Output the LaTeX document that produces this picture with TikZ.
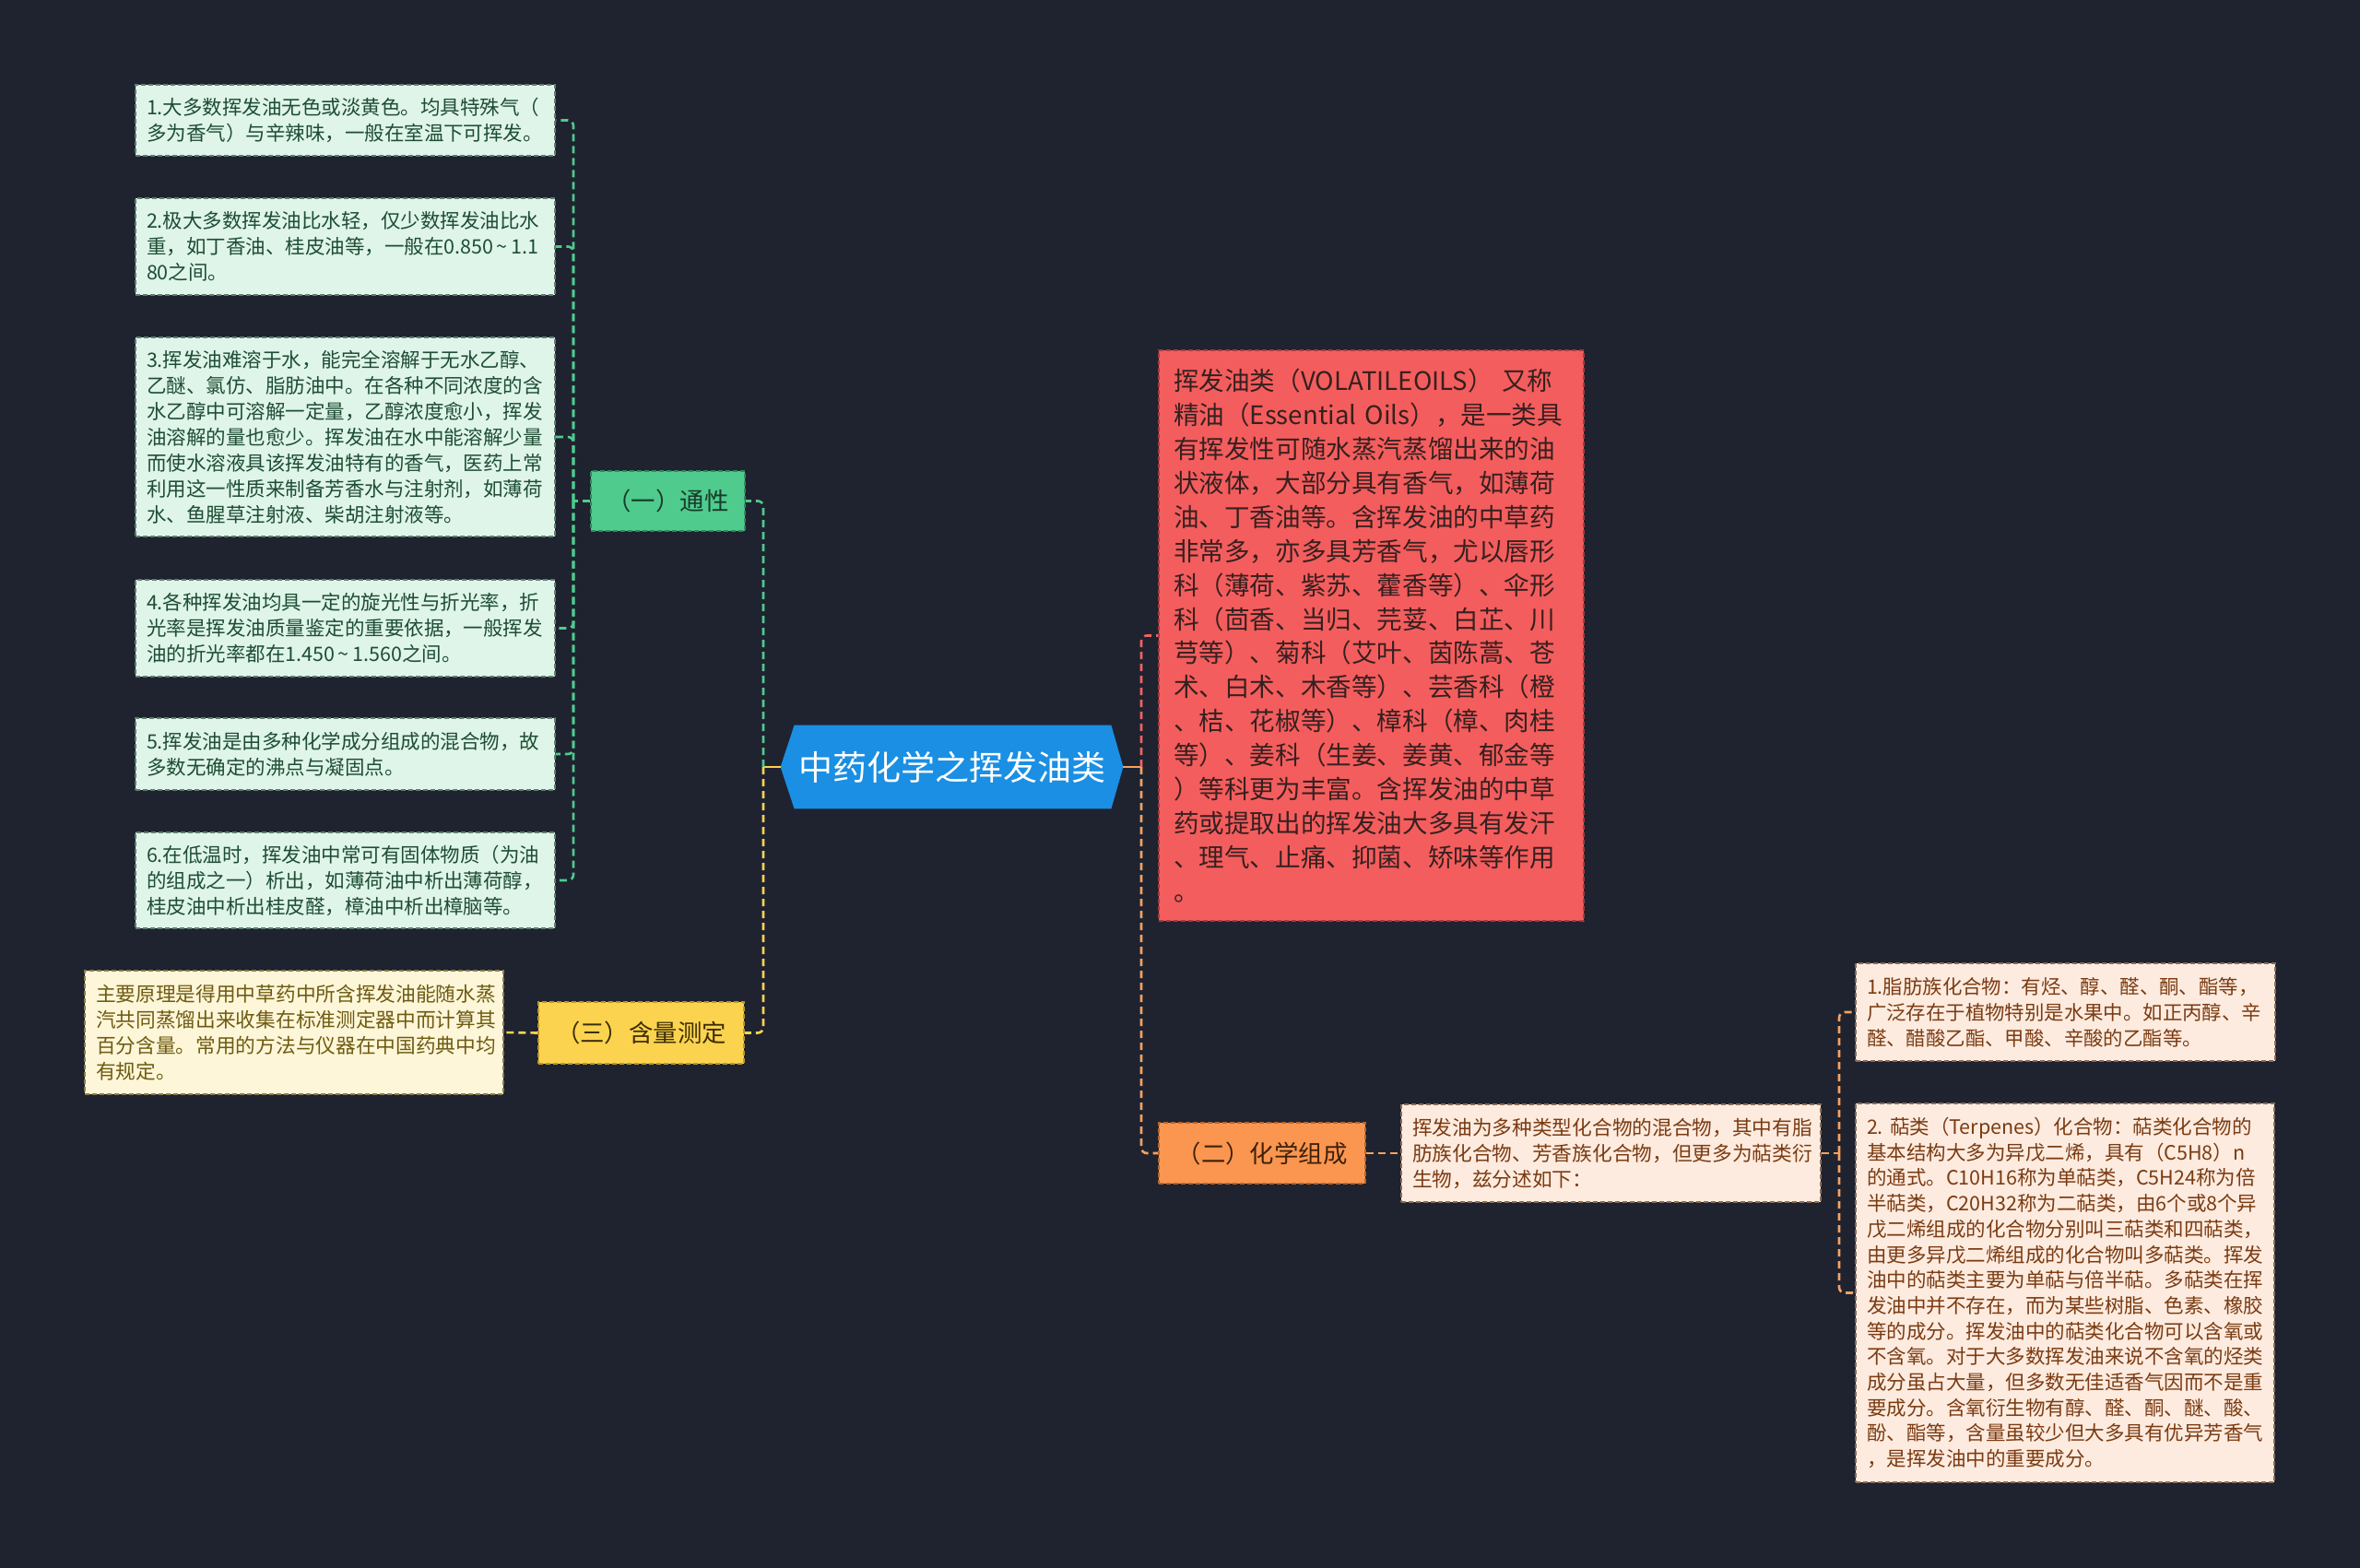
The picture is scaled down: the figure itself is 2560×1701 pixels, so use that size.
\documentclass[tikz,border=0pt]{standalone}
\usepackage{fontspec}
\setmainfont{Noto Sans CJK SC}
\pgfdeclarelayer{bg}\pgfdeclarelayer{mid}\pgfsetlayers{bg,mid,main}
\definecolor{bgc}{HTML}{1F2330}
\definecolor{rootblue}{HTML}{1A8FE3}
\definecolor{cgreen}{HTML}{4FCB8D}
\definecolor{gfill}{HTML}{DFF5E9}
\definecolor{gtext}{HTML}{1E4D34}
\definecolor{gborder}{HTML}{5E7F6C}
\definecolor{gnodetext}{HTML}{173B29}
\definecolor{gnodeborder}{HTML}{2E8A5C}
\definecolor{cyellow}{HTML}{FCD34F}
\definecolor{yfill}{HTML}{FDF6D8}
\definecolor{ytext}{HTML}{6F5B12}
\definecolor{yborder}{HTML}{8A7C4A}
\definecolor{ynodetext}{HTML}{3A2E05}
\definecolor{ynodeborder}{HTML}{B8962A}
\definecolor{cred}{HTML}{F26262}
\definecolor{rfill}{HTML}{F45D5D}
\definecolor{rtext}{HTML}{362020}
\definecolor{rborder}{HTML}{A83A3A}
\definecolor{corange}{HTML}{F7A160}
\definecolor{ofill}{HTML}{FA9650}
\definecolor{onodetext}{HTML}{40200A}
\definecolor{onodeborder}{HTML}{B8642A}
\definecolor{ofillL}{HTML}{FDEBDF}
\definecolor{otext}{HTML}{7B3B12}
\definecolor{oborder}{HTML}{8C6A55}
\tikzset{
  conn/.style={line width=1.3pt, dash pattern=on 4pt off 2.5pt, rounded corners=3pt},
  boxbase/.style={rectangle, line width=0.6pt, dash pattern=on 2.5pt off 1.5pt, inner ysep=2pt, align=left},
  leafg/.style={boxbase, fill=gfill, draw=gborder, text=gtext, font=\fontsize{10.75pt}{14pt}\selectfont, text width=215.5pt, inner xsep=6pt},
  leafy/.style={boxbase, fill=yfill, draw=yborder, text=ytext, font=\fontsize{10.85pt}{14pt}\selectfont, text width=215pt, inner xsep=6pt},
  leafo/.style={boxbase, fill=ofillL, draw=oborder, text=otext, font=\fontsize{10.85pt}{14pt}\selectfont, text width=215.5pt, inner xsep=6pt},
  leafr/.style={boxbase, fill=rfill, draw=rborder, text=rtext, font=\fontsize{13.8pt}{18.45pt}\selectfont, text width=214.5pt, inner xsep=8pt},
  branchg/.style={boxbase, align=center, fill=cgreen, draw=gnodeborder, text=gnodetext, font=\fontsize{13.2pt}{15pt}\selectfont},
  branchy/.style={boxbase, align=center, fill=cyellow, draw=ynodeborder, text=ynodetext, font=\fontsize{13.2pt}{15pt}\selectfont},
  brancho/.style={boxbase, align=center, fill=ofill, draw=onodeborder, text=onodetext, font=\fontsize{13.2pt}{15pt}\selectfont},
  roottext/.style={rectangle, inner sep=0pt, text=white, font=\fontsize{18.5pt}{20pt}\selectfont},
}
\begin{document}
\begin{tikzpicture}[x=0.5pt, y=-0.5pt]
\begin{pgfonlayer}{bg}
\fill[bgc] (0,0) rectangle (2560,1701);
\end{pgfonlayer}
\useasboundingbox (0,0) rectangle (2560,1701);

% root
\node[roottext, minimum width=185.5pt, minimum height=45pt] (root) at (1032.5,832) {中药化学之挥发油类};

% branches
\node[branchg, minimum width=83.5pt, minimum height=32.5pt] (tx) at (724.5,543.5) {（一）通性};
\node[branchy, minimum width=111.5pt, minimum height=33.5pt] (hl) at (695.5,1120.5) {（三）含量测定};
\node[brancho, minimum width=112pt, minimum height=33pt] (hx) at (1369,1251) {（二）化学组成};

% green leaves
\node[leafg, minimum height=38.5pt] (g1) at (374.5,130.5) {1.大多数挥发油无色或淡黄色。均具特殊气（\\多为香气）与辛辣味，一般在室温下可挥发。};
\node[leafg, minimum height=52.5pt] (g2) at (374.5,267.5) {2.极大多数挥发油比水轻，仅少数挥发油比水\\重，如丁香油、桂皮油等，一般在0.850\,\char"007E\,1.1\\80之间。};
\node[leafg, minimum height=108pt] (g3) at (374.5,474) {3.挥发油难溶于水，能完全溶解于无水乙醇、\\乙醚、氯仿、脂肪油中。在各种不同浓度的含\\水乙醇中可溶解一定量，乙醇浓度愈小，挥发\\油溶解的量也愈少。挥发油在水中能溶解少量\\而使水溶液具该挥发油特有的香气，医药上常\\利用这一性质来制备芳香水与注射剂，如薄荷\\水、鱼腥草注射液、柴胡注射液等。};
\node[leafg, minimum height=52.5pt] (g4) at (374.5,681.5) {4.各种挥发油均具一定的旋光性与折光率，折\\光率是挥发油质量鉴定的重要依据，一般挥发\\油的折光率都在1.450\,\char"007E\,1.560之间。};
\node[leafg, minimum height=39pt] (g5) at (374.5,818) {5.挥发油是由多种化学成分组成的混合物，故\\多数无确定的沸点与凝固点。};
\node[leafg, minimum height=52pt] (g6) at (374.5,955) {6.在低温时，挥发油中常可有固体物质（为油\\的组成之一）析出，如薄荷油中析出薄荷醇，\\桂皮油中析出桂皮醛，樟油中析出樟脑等。};

% yellow leaf
\node[leafy, minimum height=67pt] (hld) at (319,1120) {主要原理是得用中草药中所含挥发油能随水蒸\\汽共同蒸馏出来收集在标准测定器中而计算其\\百分含量。常用的方法与仪器在中国药典中均\\有规定。};

% red leaf
\node[leafr, minimum height=309.5pt] (red) at (1487.5,689.5) {挥发油类（VOLATILEOILS）~又称\\精油（Essential~Oils），是一类具\\有挥发性可随水蒸汽蒸馏出来的油\\状液体，大部分具有香气，如薄荷\\油、丁香油等。含挥发油的中草药\\非常多，亦多具芳香气，尤以唇形\\科（薄荷、紫苏、藿香等）、伞形\\科（茴香、当归、芫荽、白芷、川\\芎等）、菊科（艾叶、茵陈蒿、苍\\术、白术、木香等）、芸香科（橙\\、桔、花椒等）、樟科（樟、肉桂\\等）、姜科（生姜、姜黄、郁金等\\）等科更为丰富。含挥发油的中草\\药或提取出的挥发油大多具有发汗\\、理气、止痛、抑菌、矫味等作用\\。};

% orange leaves
\node[leafo, minimum height=53pt] (hxd) at (1747.5,1251) {挥发油为多种类型化合物的混合物，其中有脂\\肪族化合物、芳香族化合物，但更多为萜类衍\\生物，兹分述如下：};
\node[leafo, font=\fontsize{10.7pt}{14pt}\selectfont, minimum height=53pt] (r1) at (2240.5,1098) {1.脂肪族化合物：有烃、醇、醛、酮、酯等，\\广泛存在于植物特别是水果中。如正丙醇、辛\\醛、醋酸乙酯、甲酸、辛酸的乙酯等。};
\node[leafo, font=\fontsize{10.75pt}{13.85pt}\selectfont, text width=215pt, minimum height=205.5pt] (r2) at (2240,1402.5) {2.~萜类（Terpenes）化合物：萜类化合物的\\基本结构大多为异戊二烯，具有（C5H8）n\\的通式。C10H16称为单萜类，C5H24称为倍\\半萜类，C20H32称为二萜类，由6个或8个异\\戊二烯组成的化合物分别叫三萜类和四萜类，\\由更多异戊二烯组成的化合物叫多萜类。挥发\\油中的萜类主要为单萜与倍半萜。多萜类在挥\\发油中并不存在，而为某些树脂、色素、橡胶\\等的成分。挥发油中的萜类化合物可以含氧或\\不含氧。对于大多数挥发油来说不含氧的烃类\\成分虽占大量，但多数无佳适香气因而不是重\\要成分。含氧衍生物有醇、醛、酮、醚、酸、\\酚、酯等，含量虽较少但大多具有优异芳香气\\，是挥发油中的重要成分。};

% junction coordinates
\coordinate (jl) at (828,832);
\coordinate (jr) at (1238,832);
\coordinate (jg) at (622,543.5);
\coordinate (jo) at (1995,1251);

\begin{pgfonlayer}{mid}
\fill[rootblue] (root.west) -- ([xshift=7.5pt]root.north west) -- ([xshift=-6.5pt]root.north east) -- (root.east) -- ([xshift=-6.5pt]root.south east) -- ([xshift=7.5pt]root.south west) -- cycle;
% left side
\draw[cyellow, line width=1.3pt] (root.west) -- (jl);
\draw[conn, cgreen] (jl) |- (tx.east);
\draw[conn, cyellow] (jl) |- (hl.east);
\draw[conn, cgreen] (tx.west) -- (jg);
\foreach \i in {g1,g2,g3,g4,g5,g6} {\draw[conn, cgreen] (jg) |- (\i.east);}
\draw[conn, cyellow] (hl.west) -- (hld.east);
% right side
\draw[corange, line width=1.3pt] (root.east) -- (jr);
\draw[conn, cred] (jr) |- (red.west);
\draw[conn, corange] (jr) |- (hx.west);
\draw[conn, corange] (hx.east) -- (hxd.west);
\draw[conn, corange] (hxd.east) -- (jo);
\draw[conn, corange] (jo) |- (r1.west);
\draw[conn, corange] (jo) |- (r2.west);
\end{pgfonlayer}
\end{tikzpicture}
\end{document}
